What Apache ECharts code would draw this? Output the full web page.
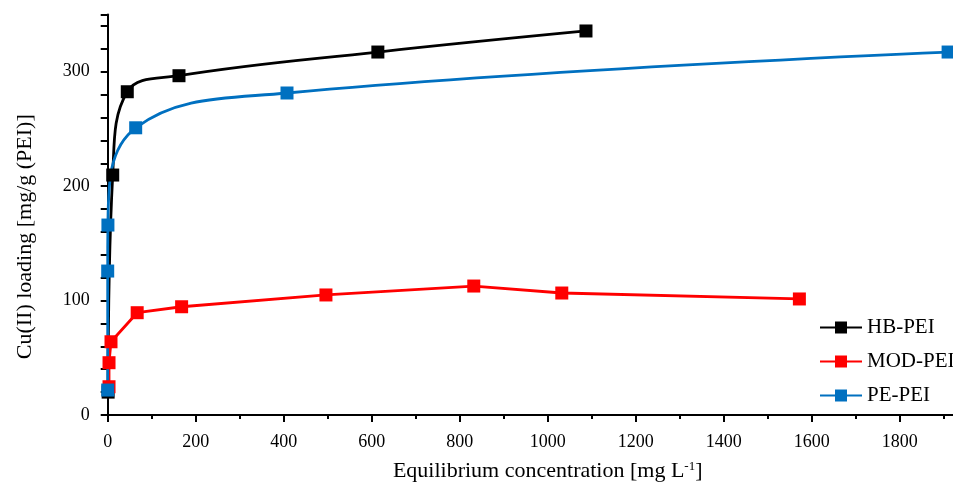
<!DOCTYPE html>
<html>
<head>
<meta charset="utf-8">
<script src="https://cdn.jsdelivr.net/npm/echarts/dist/echarts.min.js"></script>
<style>
  html, body { margin: 0; padding: 0; background: #fff; }
  #main { width: 953px; height: 487px; }
</style>
</head>
<body>
<div id="main"></div>
<script>
// data
var seriesNames = ['HB-PEI', 'MOD-PEI', 'PE-PEI'];
var hbX  = [1, 11.4, 44.5, 162, 614, 1087];
var hbY  = [20, 209.7, 282.5, 296.5, 317.2, 335.6];
var modX = [3, 3, 7.5, 67, 168, 496, 832, 1032, 1572];
var modY = [24.7, 45.7, 64, 89.4, 94.6, 104.9, 112.7, 106.6, 101.4];
var peX  = [0, 0, 0.5, 63.6, 407.5, 1910];
var peY  = [21.8, 125.8, 166, 251, 281.4, 317.2];

function pairs(xs, ys) {
	var out = [];
	for (var i = 0; i < xs.length; i++) {
		out.push([xs[i], ys[i]]);
	}
	return out;
}

var fontName = '"Liberation Serif", "DejaVu Serif", serif';
var myChart = echarts.init(document.getElementById('main'));

function lineSeries(name, data, color, smooth) {
	return {
		name: name,
		type: 'line',
		data: data,
		smooth: smooth,
		symbol: 'rect',
		symbolSize: 13,
		showSymbol: true,
		animation: false,
		lineStyle: { color: color, width: 2.8 },
		itemStyle: { color: color }
	};
}

var option = {
	backgroundColor: '#fff',
	animation: false,
	grid: {
		left: 107.7,
		right: -34.7,
		top: 14.5,
		bottom: 72,
		outerBoundsMode: 'none',
		containLabel: false
	},
	legend: {
		orient: 'vertical',
		left: 814,
		top: 312,
		itemWidth: 42,
		itemHeight: 15,
		itemGap: 13,
		data: seriesNames,
		textStyle: { fontFamily: fontName, fontSize: 21, color: '#000' }
	},
	xAxis: {
		type: 'value',
		min: 0,
		max: 2000,
		interval: 200,
		name: 'Equilibrium concentration [mg L{sup|-1}]',
		nameLocation: 'middle',
		nameGap: 45,
		nameTextStyle: {
			fontFamily: fontName,
			fontSize: 22,
			color: '#000',
			rich: {
				sup: { fontFamily: fontName, fontSize: 13, verticalAlign: 'top', padding: [0, 0, 10, 0], color: '#000' }
			}
		},
		axisLine: { lineStyle: { color: '#000', width: 2 } },
		axisTick: { length: 7, lineStyle: { color: '#000', width: 2 } },
		minorTick: { show: true, splitNumber: 2, length: 4, lineStyle: { color: '#000', width: 2 } },
		splitLine: { show: false },
		axisLabel: {
			margin: 18,
			fontFamily: fontName,
			fontSize: 18,
			color: '#000',
			formatter: function (v) {
				return String(v);
			}
		}
	},
	yAxis: {
		type: 'value',
		min: 0,
		max: 350,
		interval: 20,
		name: 'Cu(II) loading [mg/g (PEI)]',
		nameLocation: 'middle',
		nameGap: 71,
		nameTextStyle: { fontFamily: fontName, fontSize: 22, color: '#000', padding: [0, 44, 0, 0] },
		axisLine: { show: true, lineStyle: { color: '#000', width: 2 } },
		axisTick: { show: true, length: 7, lineStyle: { color: '#000', width: 2 } },
		splitLine: { show: false },
		axisLabel: {
			margin: 18,
			fontFamily: fontName,
			fontSize: 18,
			color: '#000',
			formatter: function (v) {
				return v % 100 === 0 ? String(v) : '';
			}
		}
	},
	series: [
		lineSeries(seriesNames[0], pairs(hbX, hbY), '#000000', 0.4),
		lineSeries(seriesNames[1], pairs(modX, modY), '#ff0000', false),
		lineSeries(seriesNames[2], pairs(peX, peY), '#0070c0', 0.4)
	]
};

myChart.setOption(option);
</script>
</body>
</html>
